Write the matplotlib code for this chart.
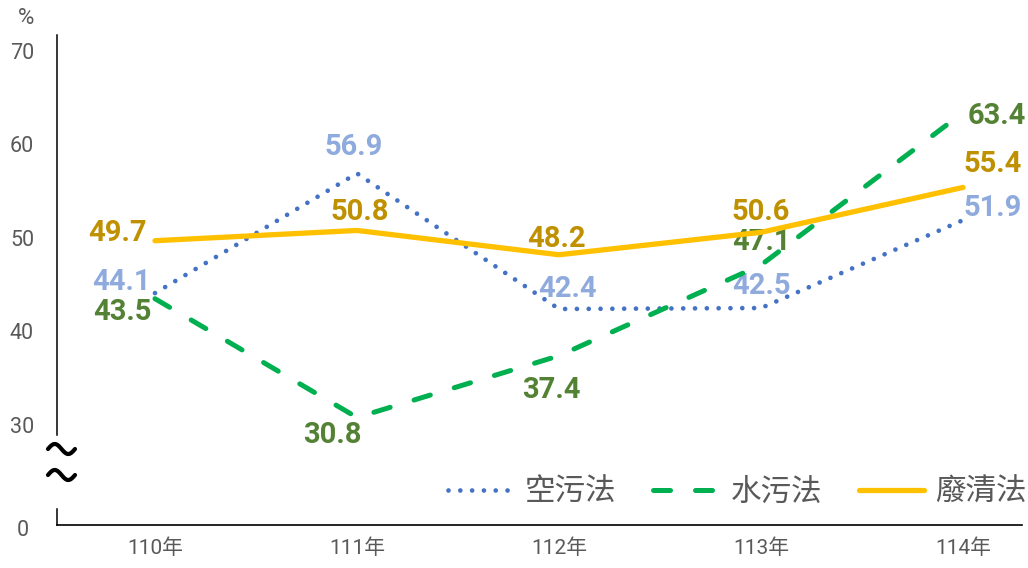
import numpy as np
import matplotlib
matplotlib.use("Agg")
import matplotlib.pyplot as plt
from matplotlib.lines import Line2D

# ---- data ----
years = ["110年", "111年", "112年", "113年", "114年"]
series_names = ["空污法", "水污法", "廢清法"]
air = [44.1, 56.9, 42.4, 42.5, 51.9]
water = [43.5, 30.8, 37.4, 47.1, 63.4]
waste = [49.7, 50.8, 48.2, 50.6, 55.4]
ytick_vals = [30, 40, 50, 60, 70]

# ---- styles / layout ----
line_colors = ["#4472C4", "#00B050", "#FFC000"]
label_colors = ["#8FAADC", "#548235", "#BF9000"]
PX = 72 / 100.0  # pixel -> points
# label offsets in pixels (dx, dy up)
offsets = [
    [(-34, 11), (-3, 26), (8, 20), (0, 22), (30, 12.5)],
    [(-33, -13), (-25, -17.5), (-7.5, -34), (0, 23), (34, -3)],
    [(-37, 8), (3, 18.5), (-3, 16), (0, 20), (30, 23.5)],
]

W, H = 1028, 568
fig = plt.figure(figsize=(W / 100, H / 100), dpi=100)
ax_left, ax_right, ax_top, ax_bot = 57, 1022, 35, 525
ax = fig.add_axes([ax_left / W, 1 - ax_bot / H, (ax_right - ax_left) / W, (ax_bot - ax_top) / H])

x = np.arange(len(years))
ax.set_xlim(-0.485, 4.292)
ymin, ymax = 19.3, 71.7
ax.set_ylim(ymin, ymax)

lw_dot = 3.4
l1, = ax.plot(x, air, color=line_colors[0], lw=lw_dot, linestyle=(0, (0.001, 2.5)),
              dash_capstyle="round", zorder=3, label=series_names[0])
lw_dash = 3.6
l2, = ax.plot(x, water, color=line_colors[1], lw=lw_dash, linestyle=(0, (3.4, 5.0)),
              dash_capstyle="round", zorder=3, label=series_names[1])
l3, = ax.plot(x, waste, color=line_colors[2], lw=3.8, solid_capstyle="round",
              solid_joinstyle="round", zorder=3, label=series_names[2])

for si, vals in enumerate([air, water, waste]):
    for i, v in enumerate(vals):
        dx, dy = offsets[si][i]
        ax.annotate(f"{v:.1f}", (x[i], v), xytext=(dx * PX, dy * PX), textcoords="offset points",
                    ha="center", va="center", fontsize=21, fontweight="bold",
                    family=["Roboto", "DejaVu Sans"], color=label_colors[si], zorder=1)

# axes styling
for s in ["top", "right", "left"]:
    ax.spines[s].set_visible(False)
ax.spines["bottom"].set_color("#000000")
ax.spines["bottom"].set_linewidth(1.2)

ax.set_xticks(x)
ax.set_xticklabels(years, family=["Roboto", "Noto Sans CJK TC"], fontsize=15, color="#595959")
ax.tick_params(axis="x", length=0, pad=10)
ax.set_yticks(ytick_vals)
ax.set_yticklabels([str(v) for v in ytick_vals], family=["Roboto", "DejaVu Sans"],
                   fontsize=15.5, color="#595959")
ax.tick_params(axis="y", length=0, pad=16.5)

# broken y axis segments
def yfrac(v):
    return (v - ymin) / (ymax - ymin)
ax.plot([0, 0], [yfrac(28.9), 1.0], transform=ax.transAxes, color="#000000", lw=1.1, clip_on=False)
ax.plot([0, 0], [0, yfrac(21.0)], transform=ax.transAxes, color="#000000", lw=1.1, clip_on=False)

# break marks (tildes)
t = np.linspace(0, 2 * np.pi, 60)
for cy in [449, 475]:
    xs = (48 + 27 * t / (2 * np.pi)) / W
    ys = 1 - (cy - 5 * np.sin(t)) / H
    fig.add_artist(Line2D(xs, ys, color="#000000", lw=3.0, transform=fig.transFigure,
                          solid_capstyle="round"))

# "0" label and "%" unit
fig.text(23 / W, 1 - 530 / H, "0", ha="center", va="center", fontsize=15.5,
         family=["Roboto", "DejaVu Sans"], color="#595959")
fig.text(26 / W, 1 - 19 / H, "%", ha="center", va="center", fontsize=16,
         family=["Roboto", "DejaVu Sans"], color="#595959")

# legend
leg = fig.legend(handles=[l1, l2, l3], labels=series_names, ncol=3, frameon=False,
                 loc="center right", bbox_to_anchor=(1027 / W, 1 - 492 / H),
                 prop={"family": ["Noto Sans CJK TC", "DejaVu Sans"], "size": 22},
                 handlelength=2.13, handletextpad=0.39, columnspacing=1.2,
                 borderpad=0, borderaxespad=0)
for txt in leg.get_texts():
    txt.set_color("#595959")

fig.savefig("out.png", dpi=100)
